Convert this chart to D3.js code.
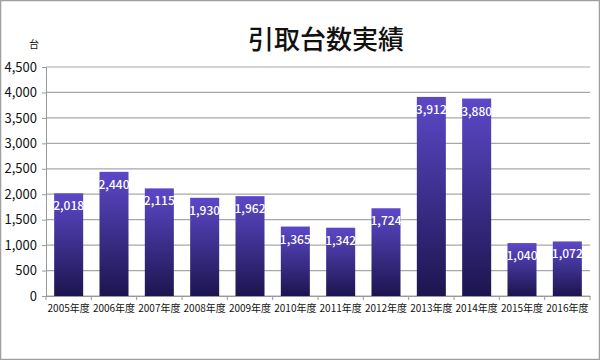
<!DOCTYPE html>
<html><head><meta charset="utf-8">
<script src="https://cdn.jsdelivr.net/npm/d3@7"></script>
<style>body{margin:0;background:#fff}svg{display:block}</style>
</head><body>
<script>
const categories = ["2005年度","2006年度","2007年度","2008年度","2009年度","2010年度","2011年度","2012年度","2013年度","2014年度","2015年度","2016年度"];
const values = [2018,2440,2115,1930,1962,1365,1342,1724,3912,3880,1040,1072];
const yTicks = [0,500,1000,1500,2000,2500,3000,3500,4000,4500];
const title = "引取台数実績";
const unit = "台";

const W=600,H=360;
const svg=d3.select("body").append("svg").attr("width",W).attr("height",H);
const font="'Noto Sans CJK JP','Noto Sans',sans-serif";
svg.append("rect").attr("x",0.5).attr("y",0.5).attr("width",W-1).attr("height",H-1).attr("fill","#fff").attr("stroke","#a0a0a0").attr("stroke-width",1.5);

const defs=svg.append("defs");
const g=defs.append("linearGradient").attr("id","bg").attr("x1",0).attr("y1",0).attr("x2",0).attr("y2",1);
g.append("stop").attr("offset","0%").attr("stop-color","#5c48c8");
g.append("stop").attr("offset","100%").attr("stop-color","#1c154f");

const x=d3.scaleBand().domain(categories).range([46,590]).paddingInner(0.36).paddingOuter(0.18);
const y=d3.scaleLinear().domain([0,4500]).range([296,67]);

// gridlines
svg.append("g").selectAll("line").data(yTicks).join("line")
  .attr("x1",46).attr("x2",590).attr("y1",d=>y(d)).attr("y2",d=>y(d))
  .attr("stroke","#a8a8a8").attr("stroke-width",1.2);

// y axis
const ya=svg.append("g").attr("transform","translate(46,0)")
  .call(d3.axisLeft(y).tickValues(yTicks).tickFormat(d3.format(",")).tickSize(4).tickPadding(5));
ya.select(".domain").attr("stroke","#999");
ya.selectAll(".tick line").attr("stroke","#999");
ya.selectAll("text").attr("font-family",font).attr("font-size",13).attr("fill","#111");

// x axis
const xa=svg.append("g").attr("transform","translate(0,296)")
  .call(d3.axisBottom(x).tickSize(0).tickPadding(9));
xa.select(".domain").attr("stroke","#999");
xa.selectAll("text").attr("font-family",font).attr("font-size",10).attr("fill","#111");
svg.append("g").selectAll("line").data(d3.range(categories.length+1)).join("line")
  .attr("x1",i=>46+i*(544/categories.length)).attr("x2",i=>46+i*(544/categories.length))
  .attr("y1",296).attr("y2",300).attr("stroke","#999");

// bars
svg.append("g").selectAll("rect").data(values).join("rect")
  .attr("x",(d,i)=>x(categories[i])).attr("width",x.bandwidth())
  .attr("y",d=>y(d)).attr("height",d=>y(0)-y(d))
  .attr("fill","url(#bg)");

// labels
svg.append("g").selectAll("text").data(values).join("text")
  .attr("x",(d,i)=>x(categories[i])+x.bandwidth()/2)
  .attr("y",d=>y(d)+17)
  .attr("text-anchor","middle")
  .attr("font-family",font).attr("font-size",12).attr("font-weight",500).attr("fill","#fff")
  .text(d=>d3.format(",")(d));

svg.append("text").attr("x",326).attr("y",49).attr("text-anchor","middle")
  .attr("font-family",font).attr("font-size",26).attr("font-weight",500).attr("fill","#111").text(title);
svg.append("text").attr("x",34).attr("y",48).attr("text-anchor","middle")
  .attr("font-family",font).attr("font-size",10).attr("fill","#111").text(unit);
</script>
</body></html>
